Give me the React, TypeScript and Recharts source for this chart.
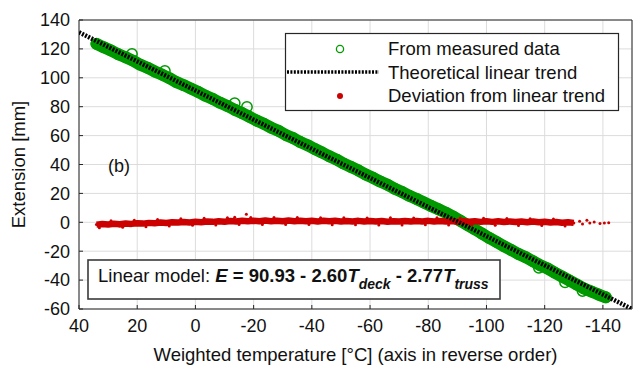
import { ScatterChart, Scatter, XAxis, YAxis, CartesianGrid } from "recharts";

const FONT = '"Liberation Sans", Arial, sans-serif';
const GREEN = "#009900";
const RED = "#cc0000";
const AXIS = "#262626";

// axis ticks
const xTicks = [40, 20, 0, -20, -40, -60, -80, -100, -120, -140];
const yTicks = [-60, -40, -20, 0, 20, 40, 60, 80, 100, 120, 140];

// measured extension (green circles), read along the band
const measT = [
  34, 31.5, 29, 26.5, 24, 21.5, 19, 16.5, 14, 11.5, 9, 6.5, 4, 1.5, -1, -3.5, -6, -8.5,
  -11, -13.5, -16, -18.5, -21, -23.5, -26, -28.5, -31, -33.5, -36, -38.5, -41, -43.5,
  -46, -48.5, -51, -53.5, -56, -58.5, -61, -63.5, -66, -68.5, -71, -73.5, -76, -78.5,
  -81, -83.5, -86, -88.5, -91, -93.5, -96, -98.5, -101, -103.5, -106, -108.5, -111,
  -113.5, -116, -118.5, -121, -123.5, -126, -128.5, -131, -133.5, -136, -138.5, -141,
];
const measE = [
  123.5, 121.1, 118.9, 116.3, 114.2, 111.9, 109.1, 107.0, 104.4, 102.2, 99.8, 97.0, 94.9,
  92.5, 90.2, 87.5, 85.3, 82.7, 80.5, 77.9, 75.6, 73.1, 70.4, 68.2, 65.5, 63.3, 60.5, 58.3,
  55.6, 53.4, 50.7, 48.3, 45.7, 43.4, 40.6, 38.3, 35.9, 33.1, 30.8, 28.2, 26.0, 23.2, 21.0,
  18.3, 16.1, 13.7, 11.3, 9.0, 6.7, 4.0, 1.1, -1.9, -4.8, -7.9, -10.9, -13.7, -16.5, -19.2,
  -21.9, -24.2, -27.0, -29.8, -32.0, -34.9, -37.6, -40.3, -43.1, -45.8, -47.9, -50.0, -51.9,
];
// a few circles standing off the band
const measOutT = [21.8, 10.5, -13.5, -17.7, -118, -127, -133];
const measOutE = [116.5, 104.7, 82.5, 79.8, -31.5, -41.5, -47.5];

// theoretical linear trend
const trendT = [40, -150];
const trendE = [131.5, -60];

// deviation from the linear trend (red dots)
const devT = [
  34, 32, 30, 28, 26, 24, 22, 20, 18, 16, 14, 12, 10, 8, 6, 4, 2, 0, -2, -4, -6, -8, -10,
  -12, -14, -16, -18, -20, -22, -24, -26, -28, -30, -32, -34, -36, -38, -40, -42, -44, -46,
  -48, -50, -52, -54, -56, -58, -60, -62, -64, -66, -68, -70, -72, -74, -76, -78, -80, -82,
  -84, -86, -88, -90, -92, -94, -96, -98, -100, -102, -104, -106, -108, -110, -112, -114,
  -116, -118, -120, -122, -124, -126, -128, -130,
];
const devE = [
  -1.6, -1.2, -1.5, -1.0, -1.3, -0.9, -1.1, -0.6, -0.9, -0.4, -0.6, -0.2, -0.5, 0.0, -0.2,
  0.2, -0.1, 0.4, 0.1, 0.5, 0.3, 0.7, 0.4, 0.9, 0.6, 1.1, 0.7, 1.1, 0.7, 1.2, 0.8, 1.1, 0.7,
  1.2, 0.8, 1.1, 0.7, 1.0, 0.6, 1.1, 0.7, 1.0, 0.6, 0.9, 0.6, 1.0, 0.5, 0.9, 0.5, 0.9, 0.4,
  0.8, 0.5, 0.9, 0.5, 0.9, 0.6, 1.0, 0.5, 0.9, 0.5, 0.8, 0.3, 0.8, 0.4, 0.8, 0.3, 0.7, 0.3,
  0.7, 0.2, 0.6, 0.2, 0.6, 0.0, 0.5, 0.0, 0.4, -0.2, 0.2, -0.3, 0.1, -0.4,
];
// dots on the ragged edges of the red band
const devEdgeT = [
  33, 29, 25, 21, 17, 13, 9, 5, 1, -3, -7, -11, -15, -19, -23, -27, -31, -35, -39, -43, -47,
  -51, -55, -59, -63, -67, -71, -75, -79, -83, -87, -91, -95, -99, -103, -107, -111, -115,
  -119, -123, -127,
];
const devEdgeE = [
  -3.8, 1.0, -3.4, 1.5, -3.0, 2.0, -2.6, 2.4, -2.1, 2.8, -1.8, 3.2, -1.6, 3.4, -1.5, 3.3,
  -1.6, 3.4, -1.5, 3.2, -1.7, 3.1, -1.7, 3.0, -1.8, 3.1, -1.8, 3.0, -1.7, 3.1, -1.8, 2.9,
  -1.9, 2.8, -2.0, 2.7, -2.2, 2.5, -2.3, 2.3, -2.6,
];
const devSparseT = [-17.5, -13.5, 26, -132, -133, -134.5, -135.5, -137, -139, -140.5, -142];
const devSparseE = [5.5, 3.5, -2.6, 0.8, -1.2, 1.5, -0.5, 0.2, -0.8, -0.4, -0.3];

const zip = (ts: number[], es: number[]) => ts.map((t, i) => ({ t, e: es[i] }));

const measData = zip(measT, measE);
const measOutData = zip(measOutT, measOutE);
const trendData = zip(trendT, trendE);
const devData = zip(devT, devE);
const devEdgeData = zip(devEdgeT, devEdgeE);
const devSparseData = zip(devSparseT, devSparseE);

const OpenCircle = (p: any) => (
  <circle cx={p.cx} cy={p.cy} r={5.2} fill="none" stroke={GREEN} strokeWidth={1.5} />
);
const RedDot = (p: any) => <circle cx={p.cx} cy={p.cy} r={1.5} fill={RED} />;
const NoShape = () => <g />;

const tickStyle = { fill: "#111", fontSize: 18, fontFamily: FONT };

export default function App() {
  return (
    <div
      style={{
        position: "absolute",
        left: 0,
        top: 0,
        width: 635,
        height: 369,
        background: "#fff",
        fontFamily: FONT,
      }}
    >
      <ScatterChart width={635} height={369} margin={{ top: 19, right: 2, bottom: 0, left: 0 }}>
        <CartesianGrid stroke="#dcdcdc" strokeWidth={1} />
        <XAxis
          type="number"
          dataKey="t"
          domain={[-150, 40]}
          reversed
          ticks={xTicks}
          interval={0}
          allowDataOverflow
          height={60}
          tickSize={-4}
          tickMargin={14}
          stroke={AXIS}
          tick={tickStyle}
          label={{
            value: "Weighted temperature [°C] (axis in reverse order)",
            position: "insideBottom",
            offset: 8,
            fill: "#111",
            fontSize: 18.5,
            fontFamily: FONT,
          }}
        />
        <XAxis
          xAxisId="top"
          orientation="top"
          type="number"
          domain={[-150, 40]}
          reversed
          ticks={xTicks}
          interval={0}
          height={1}
          tickSize={-4}
          stroke={AXIS}
          tick={NoShape}
        />
        <YAxis
          type="number"
          dataKey="e"
          domain={[-60, 140]}
          ticks={yTicks}
          interval={0}
          allowDataOverflow
          width={79}
          tickSize={-4}
          tickMargin={13}
          stroke={AXIS}
          tick={tickStyle}
          label={(props: any) => {
            const vb = props.viewBox || { y: 20, height: 289 };
            const cx = 18;
            const cy = vb.y + vb.height / 2;
            return (
              <text
                x={cx}
                y={cy}
                dy="0.36em"
                textAnchor="middle"
                transform={`rotate(-90, ${cx}, ${cy})`}
                fill="#111"
                fontSize={18.5}
                fontFamily={FONT}
              >
                Extension [mm]
              </text>
            );
          }}
        />
        <YAxis
          yAxisId="right"
          orientation="right"
          type="number"
          domain={[-60, 140]}
          ticks={yTicks}
          interval={0}
          width={1}
          tickSize={-4}
          stroke={AXIS}
          tick={NoShape}
        />

        <Scatter
          name="From measured data"
          data={measData}
          line={{ stroke: GREEN, strokeWidth: 12, strokeLinejoin: "round", strokeLinecap: "round" }}
          shape={OpenCircle}
          isAnimationActive={false}
        />
        <Scatter data={measOutData} shape={OpenCircle} isAnimationActive={false} />
        <Scatter
          name="Deviation from linear trend"
          data={devData}
          line={{ stroke: RED, strokeWidth: 6.5, strokeLinejoin: "round" }}
          shape={RedDot}
          isAnimationActive={false}
        />
        <Scatter data={devEdgeData} shape={RedDot} isAnimationActive={false} />
        <Scatter data={devSparseData} shape={RedDot} isAnimationActive={false} />
        <Scatter
          name="Theoretical linear trend"
          data={trendData}
          line={{ stroke: "#000", strokeWidth: 4.5, strokeDasharray: "2 1.4" }}
          shape={NoShape}
          isAnimationActive={false}
        />
      </ScatterChart>

      {/* legend, panel tag and model box */}
      <svg
        width={635}
        height={369}
        style={{ position: "absolute", left: 0, top: 0, pointerEvents: "none" }}
        fontFamily={FONT}
      >
        <text x={108} y={172} fontSize={18} fill="#111">
          (b)
        </text>

        <rect x={285.5} y={33.5} width={333} height={77} fill="#fff" stroke={AXIS} strokeWidth={1.2} />
        <circle cx={340} cy={49} r={3.6} fill="none" stroke={GREEN} strokeWidth={1.3} />
        <line x1={287} y1={72} x2={379} y2={72} stroke="#000" strokeWidth={3.5} strokeDasharray="2 1.4" />
        <circle cx={340} cy={96} r={3} fill={RED} />
        <text x={388} y={55} fontSize={18.5} fill="#111">From measured data</text>
        <text x={388} y={78.5} fontSize={18.5} fill="#111">Theoretical linear trend</text>
        <text x={388} y={102} fontSize={18.5} fill="#111">Deviation from linear trend</text>

        <rect x={88} y={260} width={412} height={39} fill="#fff" stroke="#3a3a3a" strokeWidth={1.6} />
        <text x={98} y={282} fontSize={18.5} fill="#111" style={{ whiteSpace: "pre" }}>
          <tspan>Linear model: </tspan>
          <tspan fontWeight="bold" fontStyle="italic">E</tspan>
          <tspan fontWeight="bold"> = 90.93 - 2.60</tspan>
          <tspan fontWeight="bold" fontStyle="italic">T</tspan>
          <tspan fontWeight="bold" fontStyle="italic" fontSize={14} dy={7}>deck</tspan>
          <tspan fontWeight="bold" dy={-7}> - 2.77</tspan>
          <tspan fontWeight="bold" fontStyle="italic">T</tspan>
          <tspan fontWeight="bold" fontStyle="italic" fontSize={14} dy={7}>truss</tspan>
        </text>
      </svg>
    </div>
  );
}
